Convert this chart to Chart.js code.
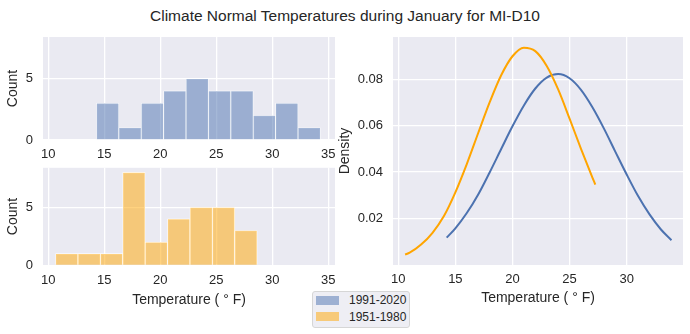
<!DOCTYPE html>
<html>
<head>
<meta charset="utf-8">
<script src="https://cdn.jsdelivr.net/npm/chart.js@4.4.0/dist/chart.umd.min.js"></script>
<style>
  body { margin: 0; background: #fff; font-family: 'Liberation Sans', Arial, sans-serif; color: #262626; }
  #fig { position: relative; width: 690px; height: 334px; overflow: hidden; }
  #fig canvas { position: absolute; }
  #title { position: absolute; left: 0; top: 6px; width: 690px; text-align: center; font-size: 15.5px; line-height: 20px; }
  #legend {
    position: absolute; left: 312px; top: 291px; width: 98px; height: 37px; box-sizing: border-box;
    background: #eeeef4; border: 1px solid #d6d6d6; border-radius: 3px; font-size: 12px;
  }
  #legend .row { display: flex; align-items: center; height: 16.5px; padding-left: 3px; }
  #legend .sw { width: 23px; height: 9px; margin-right: 10px; }
</style>
</head>
<body>
<div id="fig">
  <div id="title">Climate Normal Temperatures during January for MI-D10</div>
  <canvas id="histTop" width="345" height="165" style="left:0;top:0"></canvas>
  <canvas id="histBottom" width="345" height="160" style="left:0;top:150px"></canvas>
  <canvas id="kde" width="360" height="310" style="left:330px;top:0"></canvas>
  <div id="legend"></div>
</div>
<script>
// histogram bins (bin centres, width 2 F) and counts
const binCenters1991 = [15.3, 17.3, 19.3, 21.3, 23.3, 25.3, 27.3, 29.3, 31.3, 33.3];
const counts1991 = [3, 1, 3, 4, 5, 4, 4, 2, 3, 1];
const binCenters1951 = [11.65, 13.65, 15.65, 17.65, 19.65, 21.65, 23.65, 25.65, 27.65];
const counts1951 = [1, 1, 1, 8, 2, 4, 5, 5, 3];

// density curves
const kdeX1991 = [14.24, 15, 16, 17, 18, 19, 20, 21, 22, 23, 24, 25, 26, 27, 28, 29, 30, 31, 32, 33, 33.92];
const kdeY1991 = [0.0117, 0.0157, 0.0223, 0.0303, 0.0398, 0.0498, 0.0597, 0.0687, 0.0760, 0.0807, 0.0822, 0.0804, 0.0754, 0.0679, 0.0588, 0.0488, 0.0389, 0.0296, 0.0217, 0.0152, 0.0106];
const kdeX1951 = [10.6, 11, 12, 13, 14, 15, 16, 17, 18, 19, 20, 21, 22, 23, 24, 25, 26, 27, 27.25];
const kdeY1951 = [0.0044, 0.0052, 0.0087, 0.0138, 0.0210, 0.0312, 0.0434, 0.0568, 0.0700, 0.0816, 0.0899, 0.0936, 0.0921, 0.0857, 0.0756, 0.0630, 0.0500, 0.0376, 0.0346];

const seriesLabels = ['1991-2020', '1951-1980'];
const histTicksX = [10, 15, 20, 25, 30, 35];
const histTicksY = [0, 5];
const kdeTicksX = [10, 15, 20, 25, 30];
const kdeTicksY = [0.02, 0.04, 0.06, 0.08];

const blue = '#4c72b0';
const orange = '#ffa500';
const blueFill = 'rgba(76, 114, 176, 0.5)';
const orangeFill = 'rgba(255, 165, 0, 0.5)';

Chart.defaults.font.family = "'Liberation Sans', Arial, sans-serif";
Chart.defaults.color = '#262626';
Chart.defaults.animation = false;

const plotBg = {
  id: 'plotBg',
  beforeDraw(chart) {
    const { ctx, chartArea: a } = chart;
    ctx.save();
    ctx.fillStyle = '#eaeaf2';
    ctx.fillRect(a.left, a.top, a.right - a.left, a.bottom - a.top);
    ctx.restore();
  },
};

const grid = { color: '#ffffff', lineWidth: 1.3, drawTicks: false, offset: false };
const tickFont = { size: 13 };
const labelFont = { size: 14, lineHeight: 1.2 };

function fixedTicks(values) {
  return scale => { scale.ticks = values.map(v => ({ value: v })); };
}

function histChart(id, centers, counts, fill, opts) {
  return new Chart(document.getElementById(id), {
    type: 'bar',
    data: {
      datasets: [{
        data: centers.map((c, i) => ({ x: c, y: counts[i] })),
        backgroundColor: fill,
        borderColor: '#ffffff',
        borderWidth: 0.7,
        barPercentage: 1,
        categoryPercentage: 1,
      }],
    },
    options: {
      responsive: false,
      layout: { padding: { top: opts.top, right: 10, left: 0, bottom: 0 } },
      plugins: { legend: { display: false }, tooltip: { enabled: false } },
      scales: {
        x: {
          type: 'linear', min: 9.53, max: 35.6, offset: false,
          grid, border: { display: false },
          ticks: { font: tickFont, padding: 7, maxRotation: 0, autoSkip: false },
          afterBuildTicks: fixedTicks(histTicksX),
          afterFit: s => { s.height = opts.xHeight; },
          title: { display: opts.xTitle, text: 'Temperature ( ° F)', font: labelFont, padding: { top: 0, bottom: 1.6 } },
        },
        y: {
          min: 0, max: 8.4,
          grid, border: { display: false },
          ticks: { font: tickFont, padding: 10 },
          afterBuildTicks: fixedTicks(histTicksY),
          afterFit: s => { s.width = 43; },
          title: { display: true, text: 'Count', font: labelFont, padding: { top: 4.4, bottom: 0 } },
        },
      },
    },
    plugins: [plotBg],
  });
}

histChart('histTop', binCenters1991, counts1991, blueFill, { top: 37, xHeight: 25, xTitle: false });
histChart('histBottom', binCenters1951, counts1951, orangeFill, { top: 12.3, xHeight: 44.7, xTitle: true });

new Chart(document.getElementById('kde'), {
  type: 'line',
  data: {
    datasets: [
      {
        label: seriesLabels[1],
        data: kdeX1951.map((x, i) => ({ x, y: kdeY1951[i] })),
        borderColor: orange, borderWidth: 2, pointRadius: 0, cubicInterpolationMode: 'monotone',
      },
      {
        label: seriesLabels[0],
        data: kdeX1991.map((x, i) => ({ x, y: kdeY1991[i] })),
        borderColor: blue, borderWidth: 2, pointRadius: 0, cubicInterpolationMode: 'monotone',
      },
    ],
  },
  options: {
    responsive: false,
    layout: { padding: { top: 37, right: 7, left: 0, bottom: 0 } },
    plugins: { legend: { display: false }, tooltip: { enabled: false } },
    scales: {
      x: {
        type: 'linear', min: 9.54, max: 34.93,
        grid, border: { display: false },
        ticks: { font: tickFont, padding: 7, maxRotation: 0, autoSkip: false },
        afterBuildTicks: fixedTicks(kdeTicksX),
        afterFit: s => { s.height = 45; },
        title: { display: true, text: 'Temperature ( ° F)', font: labelFont, padding: { top: 0, bottom: 3.6 } },
      },
      y: {
        min: -0.0001, max: 0.0982,
        grid, border: { display: false },
        ticks: { font: tickFont, padding: 10, callback: v => v.toFixed(2) },
        afterBuildTicks: fixedTicks(kdeTicksY),
        afterFit: s => { s.width = 63; },
        title: { display: true, text: 'Density', font: labelFont, padding: { top: 6.6, bottom: 0 } },
      },
    },
  },
  plugins: [plotBg],
});

// legend shared by the figure
const legend = document.getElementById('legend');
[[seriesLabels[0], blueFill], [seriesLabels[1], orangeFill]].forEach(([text, fill]) => {
  const row = document.createElement('div');
  row.className = 'row';
  const sw = document.createElement('span');
  sw.className = 'sw';
  sw.style.background = fill;
  row.appendChild(sw);
  row.appendChild(document.createTextNode(text));
  legend.appendChild(row);
});
</script>
</body>
</html>
